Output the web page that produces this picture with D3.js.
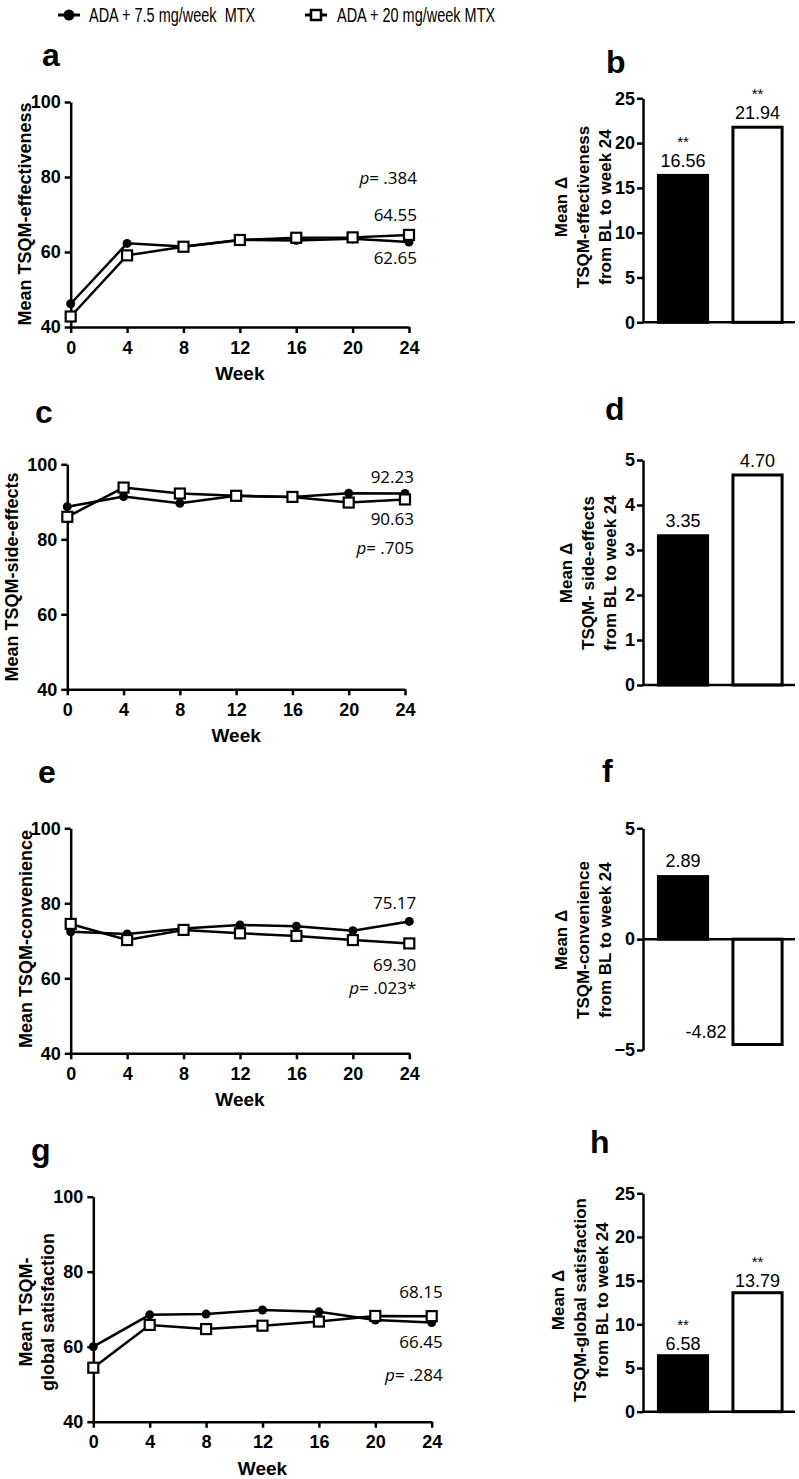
<!DOCTYPE html>
<html>
<head>
<meta charset="utf-8">
<script src="https://cdn.jsdelivr.net/npm/d3@7"></script>
<style>
body { margin: 0; background: #fff; }
svg { display: block; }
.axis path, .axis line { stroke: #000; stroke-width: 2.5; }
.axis text { font-family: "Liberation Sans", Arial, sans-serif; font-weight: bold; font-size: 18px; fill: #000; }
.bold { font-family: "Liberation Sans", Arial, sans-serif; font-weight: bold; fill: #000; }
.note { font-family: "Open Sans", sans-serif; font-size: 17px; fill: #000; }
.val { font-family: "Liberation Sans", Arial, sans-serif; font-size: 18px; fill: #000; }
</style>
</head>
<body>
<div id="chart"></div>
<script>
// data
const groups = ["ADA + 7.5 mg/week  MTX", "ADA + 20 mg/week MTX"];
const weeks = [0, 4, 8, 12, 16, 20, 24];
const lineTicks = [40, 60, 80, 100];

const effLow  = [46.2, 62.3, 61.5, 63.2, 63.1, 63.5, 62.65];
const effHigh = [42.8, 59.1, 61.4, 63.2, 63.8, 63.9, 64.55];
const sideLow  = [88.7, 91.4, 89.6, 91.6, 91.3, 92.3, 92.23];
const sideHigh = [86.0, 93.8, 92.2, 91.6, 91.3, 89.8, 90.63];
const convLow  = [72.4, 71.8, 73.3, 74.2, 73.9, 72.7, 75.17];
const convHigh = [74.5, 70.2, 72.9, 72.0, 71.3, 70.2, 69.30];
const globLow  = [60.0, 68.5, 68.7, 69.8, 69.3, 67.1, 66.45];
const globHigh = [54.4, 65.8, 64.7, 65.6, 66.7, 68.2, 68.15];
const pValues = [".384", ".705", ".023*", ".284"];

const deltaEff  = [16.56, 21.94];
const deltaSide = [3.35, 4.70];
const deltaConv = [2.89, -4.82];
const deltaGlob = [6.58, 13.79];
const deltaStars = [["**", "**"], ["", ""], ["", ""], ["**", "**"]];

const width = 799, height = 1479;

let svg = d3.select('#chart')
    .append('svg')
        .attr('width', width)
        .attr('height', height)
        .style('background', '#fff');

// legend
let legend = svg.append('g');
[[58, 89], [305, 337]].forEach(function (pos, i) {
    legend.append('line')
        .attr('x1', pos[0]).attr('x2', pos[0] + 22)
        .attr('y1', 15).attr('y2', 15)
        .attr('stroke', '#000').attr('stroke-width', 3);
    if (i == 0) {
        legend.append('circle').attr('cx', pos[0] + 11).attr('cy', 15).attr('r', 5.5).attr('fill', '#000');
    } else {
        legend.append('rect').attr('x', pos[0] + 6).attr('y', 10).attr('width', 10).attr('height', 10)
            .attr('fill', '#fff').attr('stroke', '#000').attr('stroke-width', 2.5);
    }
    legend.append('text')
        .attr('transform', 'translate(' + pos[1] + ',22) scale(0.69,1)')
        .style('white-space', 'pre')
        .style('font-family', '"Liberation Sans", Arial, sans-serif')
        .style('font-size', '21px')
        .text(groups[i]);
});

function linePanel(p) {
    let x = d3.scaleLinear().domain([0, 24]).range([p.left, p.right]);
    let y = d3.scaleLinear().domain([40, 100]).range([p.bottom, p.top]);
    let g = svg.append('g');

    g.append('g')
        .attr('class', 'axis')
        .attr('transform', 'translate(0,' + p.bottom + ')')
        .call(d3.axisBottom(x).tickValues(weeks).tickSize(6).tickPadding(8).tickSizeOuter(0));
    g.append('g')
        .attr('class', 'axis')
        .attr('transform', 'translate(' + p.left + ',0)')
        .call(d3.axisLeft(y).tickValues(lineTicks).tickSize(6).tickPadding(4).tickSizeOuter(0));

    g.append('text').attr('class', 'bold')
        .attr('x', x(12)).attr('y', p.bottom + 53)
        .attr('text-anchor', 'middle').style('font-size', '19px')
        .text('Week');

    g.append('text').attr('class', 'bold')
        .attr('x', p.labelX).attr('y', p.labelY)
        .style('font-size', '32px')
        .text(p.label);

    p.ytitle.forEach(function (t, i) {
        g.append('text').attr('class', 'bold')
            .attr('transform', 'translate(' + p.titleX[i] + ',' + p.titleY + ') rotate(-90)')
            .attr('text-anchor', 'middle')
            .attr('dominant-baseline', 'central')
            .style('font-size', '18px')
            .text(t);
    });

    let line = d3.line()
        .x(function (d, i) { return x(weeks[i]); })
        .y(function (d) { return y(d); });

    [p.low, p.high].forEach(function (s) {
        g.append('path')
            .datum(s)
            .attr('fill', 'none')
            .attr('stroke', '#000')
            .attr('stroke-width', 2.5)
            .attr('d', line);
    });

    g.selectAll('circle.pt')
        .data(p.low)
        .enter()
        .append('circle')
            .attr('class', 'pt')
            .attr('cx', function (d, i) { return x(weeks[i]); })
            .attr('cy', function (d) { return y(d); })
            .attr('r', 4.5)
            .attr('fill', '#000');

    g.selectAll('rect.pt')
        .data(p.high)
        .enter()
        .append('rect')
            .attr('class', 'pt')
            .attr('x', function (d, i) { return x(weeks[i]) - 5; })
            .attr('y', function (d) { return y(d) - 5; })
            .attr('width', 10)
            .attr('height', 10)
            .attr('fill', '#fff')
            .attr('stroke', '#000')
            .attr('stroke-width', 2.2);

    // end values and p value, right aligned after the last week
    let ex = x(24) + p.noteDx;
    p.notes.forEach(function (n) {
        let t = g.append('text').attr('class', 'note')
            .attr('x', ex).attr('y', y(n[1]))
            .attr('text-anchor', 'end');
        if (n[0] == 'p') {
            t.append('tspan').style('font-style', 'italic').text('p');
            t.append('tspan').text('= ' + n[2]);
        } else {
            t.text(n[0]);
        }
    });
}

function barPanel(p) {
    let x = d3.scaleBand().domain([0, 1]).range([643, 795])
        .paddingInner(0.3).paddingOuter(0.17).align(0.55);
    let y = d3.scaleLinear().domain(p.domain).range([p.bottom, p.top]);
    let g = svg.append('g');

    g.append('text').attr('class', 'bold')
        .attr('x', p.labelX).attr('y', p.labelY)
        .style('font-size', '32px')
        .text(p.label);

    p.ytitle.forEach(function (t, i) {
        g.append('text').attr('class', 'bold')
            .attr('transform', 'translate(' + p.titleX[i] + ',' + p.titleY + ') rotate(-90)')
            .attr('text-anchor', 'middle')
            .attr('dominant-baseline', 'central')
            .style('font-size', '17px')
            .text(t);
    });

    g.selectAll('rect.bar')
        .data(p.values)
        .enter()
        .append('rect')
            .attr('class', 'bar')
            .attr('x', function (d, i) { return x(i) + 1.5; })
            .attr('width', x.bandwidth() - 3)
            .attr('y', function (d) { return Math.min(y(d), y(0)) + (d < 0 ? 0 : 1.5); })
            .attr('height', function (d) { return Math.abs(y(d) - y(0)) - 1.5; })
            .attr('fill', function (d, i) { return i == 0 ? '#000' : '#fff'; })
            .attr('stroke', '#000')
            .attr('stroke-width', 3);

    g.append('g')
        .attr('class', 'axis')
        .attr('transform', 'translate(643,0)')
        .call(d3.axisLeft(y).tickValues(p.ticks).tickFormat(d3.format('d'))
            .tickSize(6).tickPadding(2).tickSizeOuter(0));
    g.append('line')
        .attr('x1', 643).attr('x2', 795)
        .attr('y1', y(0)).attr('y2', y(0))
        .attr('stroke', '#000').attr('stroke-width', 2.5);

    p.values.forEach(function (d, i) {
        let txt = d.toFixed(2);
        if (d < 0) {
            g.append('text').attr('class', 'val')
                .attr('x', x(i) - 5).attr('y', y(d) - 8)
                .attr('text-anchor', 'end').text(txt);
            return;
        }
        let cx = x(i) + x.bandwidth() / 2;
        let by = y(d) - p.gap;
        g.append('text').attr('class', 'val')
            .attr('x', cx).attr('y', by)
            .attr('text-anchor', 'middle').text(txt);
        if (p.stars[i]) {
            // significance stars above the value
            g.append('text').attr('class', 'val')
                .attr('x', cx).attr('y', by - 20)
                .attr('text-anchor', 'middle')
                .style('font-size', '15px')
                .text(p.stars[i]);
        }
    });
}

linePanel({
    label: 'a', labelX: 42, labelY: 66,
    left: 70.7, right: 409, top: 102, bottom: 327,
    ytitle: ['Mean TSQM-effectiveness'], titleX: [25], titleY: 214,
    low: effLow, high: effHigh, noteDx: 8,
    notes: [['p', 78.1, pValues[0]], [effHigh[6].toFixed(2), 68.3], [effLow[6].toFixed(2), 56.8]]
});
linePanel({
    label: 'c', labelX: 35, labelY: 423,
    left: 67.3, right: 405, top: 464.3, bottom: 689.3,
    ytitle: ['Mean TSQM-side-effects'], titleX: [12], titleY: 577,
    low: sideLow, high: sideHigh, noteDx: 9,
    notes: [[sideLow[6].toFixed(2), 95.0], [sideHigh[6].toFixed(2), 83.8], ['p', 76.1, pValues[1]]]
});
linePanel({
    label: 'e', labelX: 38, labelY: 783,
    left: 70.7, right: 409.3, top: 828.3, bottom: 1053.3,
    ytitle: ['Mean TSQM-convenience'], titleX: [26], titleY: 939,
    low: convLow, high: convHigh, noteDx: 7,
    notes: [[convLow[6].toFixed(2), 78.5], [convHigh[6].toFixed(2), 62.0], ['p', 55.8, pValues[2]]]
});
linePanel({
    label: 'g', labelX: 31, labelY: 1161,
    left: 93.3, right: 431.7, top: 1196.7, bottom: 1421.7,
    ytitle: ['Mean TSQM-', 'global satisfaction'], titleX: [26, 48], titleY: 1312,
    low: globLow, high: globHigh, noteDx: 11,
    notes: [[globHigh[6].toFixed(2), 73.0], [globLow[6].toFixed(2), 59.7], ['p', 50.9, pValues[3]]]
});

barPanel({
    label: 'b', labelX: 606, labelY: 73,
    domain: [0, 25], ticks: [0, 5, 10, 15, 20, 25], top: 98.3, bottom: 322.3,
    ytitle: ['Mean \u0394', 'TSQM-effectiveness', 'from BL to week 24'], titleX: [561, 583, 605], titleY: 207,
    values: deltaEff, stars: deltaStars[0], gap: 7
});
barPanel({
    label: 'd', labelX: 605, labelY: 420,
    domain: [0, 5], ticks: [0, 1, 2, 3, 4, 5], top: 460, bottom: 685,
    ytitle: ['Mean \u0394', 'TSQM- side-effects', 'from BL to week 24'], titleX: [566, 588, 610], titleY: 573,
    values: deltaSide, stars: deltaStars[1], gap: 7
});
barPanel({
    label: 'f', labelX: 602, labelY: 782,
    domain: [-5, 5], ticks: [-5, 0, 5], top: 828.3, bottom: 1050,
    ytitle: ['Mean \u0394', 'TSQM-convenience', 'from BL to week 24'], titleX: [561, 583, 605], titleY: 940,
    values: deltaConv, stars: deltaStars[2], gap: 8
});
barPanel({
    label: 'h', labelX: 590, labelY: 1153,
    domain: [0, 25], ticks: [0, 5, 10, 15, 20, 25], top: 1193.3, bottom: 1411.7,
    ytitle: ['Mean \u0394', 'TSQM-global satisfaction', 'from BL to week 24'], titleX: [558, 580, 602], titleY: 1300,
    values: deltaGlob, stars: deltaStars[3], gap: 4
});
</script>
</body>
</html>
